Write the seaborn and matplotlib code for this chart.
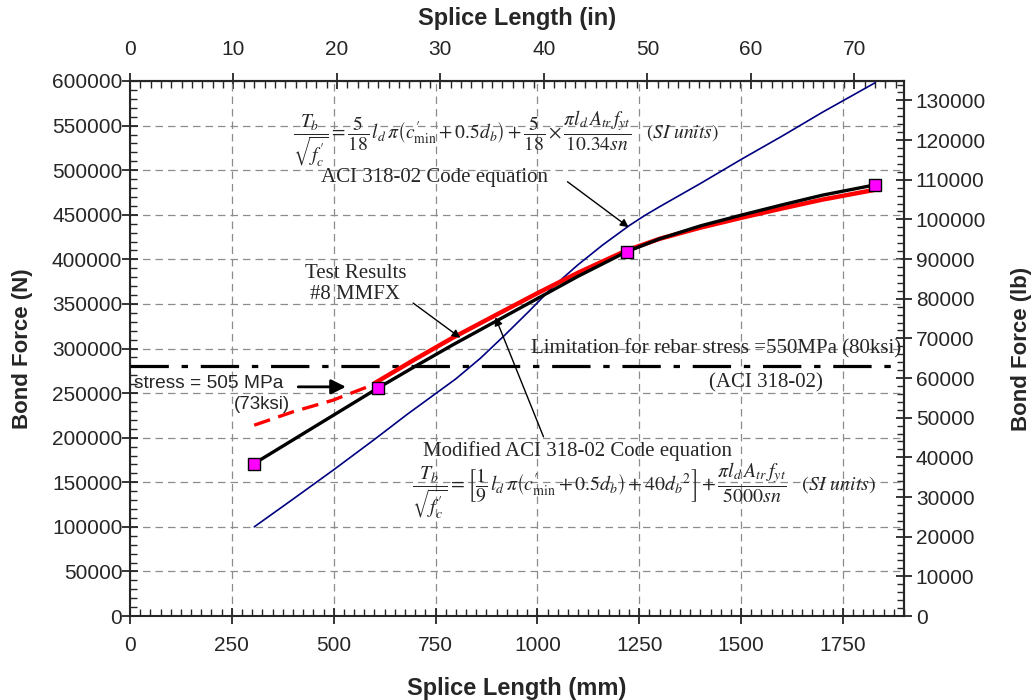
import matplotlib
matplotlib.use("Agg")
import matplotlib.pyplot as plt
import seaborn as sns
from matplotlib.ticker import MultipleLocator

# Test results, #8 MMFX (splice length in mm, bond force in N)
test_mm = [305, 610, 1219, 1829]
test_N = [171000, 256000, 408500, 483500]

# black curve through the test results
black_mm = [305, 610, 700, 792, 900, 1000, 1100, 1219, 1300, 1400, 1500, 1600, 1700, 1829]
black_N = [171000, 256000, 280000, 304000, 331000, 356000, 381000, 408500,
           423000, 437500, 449500, 461000, 472000, 483500]

# modified ACI 318-02 code equation (dashed part above the stress limit)
mod_dash_mm = [305, 400, 498, 600]
mod_dash_N = [214000, 229000, 242000, 260000]
mod_mm = [600, 700, 792, 900, 1000, 1100, 1219, 1300, 1400, 1500, 1600, 1700, 1829]
mod_N = [261000, 288000, 312000, 338000, 362000, 385000, 410000, 423000,
         435500, 446500, 457000, 467000, 478000]

# ACI 318-02 code equation
aci_mm = [305, 400, 500, 600, 680, 740, 800, 860, 920, 980, 1040, 1100, 1160, 1226,
          1263, 1300, 1400, 1500, 1600, 1700, 1829]
aci_N = [100000, 131000, 164000, 198000, 226000, 246000, 266000, 289000, 315000, 342000,
         370000, 394000, 416000, 438000, 449000, 459000, 485000, 512000, 538000, 565000, 598000]

stress_limit_N = 280000

sns.set_style("ticks")
plt.rcParams['font.family'] = ['Liberation Sans', 'DejaVu Sans']
plt.rcParams['mathtext.fontset'] = 'stix'

fig = plt.figure(figsize=(10.34, 7), dpi=100)
ax = fig.add_axes([130 / 1034, 84 / 700, 774 / 1034, 535 / 700])

ax.axhline(stress_limit_N, color='black', lw=2.3, linestyle=(0, (12, 4, 2, 4)), zorder=3)
sns.lineplot(x=aci_mm, y=aci_N, ax=ax, color='#000080', lw=1.2, sort=False, estimator=None, zorder=2)
sns.lineplot(x=mod_dash_mm, y=mod_dash_N, ax=ax, color='#ff0000', lw=2.4,
             linestyle=(0, (5, 2.6)), sort=False, estimator=None, zorder=3)
sns.lineplot(x=mod_mm, y=mod_N, ax=ax, color='#ff0000', lw=3.2, sort=False, estimator=None, zorder=3)
sns.lineplot(x=black_mm, y=black_N, ax=ax, color='black', lw=2.4, sort=False, estimator=None, zorder=4)
sns.scatterplot(x=test_mm, y=test_N, ax=ax, marker='s', s=75, color='#ff00ff',
                edgecolor='black', linewidth=1, zorder=5)

ax.set_xlim(0, 1900)
ax.set_ylim(0, 600000)
ax.xaxis.set_major_locator(MultipleLocator(250))
ax.xaxis.set_minor_locator(MultipleLocator(25))
ax.yaxis.set_major_locator(MultipleLocator(50000))
ax.yaxis.set_minor_locator(MultipleLocator(10000))
ax.grid(True, which='major', color='#8c8c8c', lw=0.9, linestyle=(0, (6, 4)))

# secondary axes: inches on top, pounds on the right
top = ax.secondary_xaxis('top', functions=(lambda x: x / 25.4, lambda x: x * 25.4))
top.xaxis.set_major_locator(MultipleLocator(10))
top.xaxis.set_minor_locator(MultipleLocator(1))
right = ax.secondary_yaxis('right', functions=(lambda y: y / 4.448, lambda y: y * 4.448))
right.yaxis.set_major_locator(MultipleLocator(10000))
right.yaxis.set_minor_locator(MultipleLocator(2000))

for a in (ax, top, right):
    a.tick_params(which='major', direction='inout', length=11, width=1.3, labelsize=15)
    a.tick_params(which='minor', direction='in', length=5, width=1.0)
    for s in a.spines.values():
        s.set_linewidth(1.5)
ax.tick_params(axis='x', which='major', pad=9)
ax.tick_params(axis='y', which='major', pad=0)
top.tick_params(which='major', pad=10)
right.tick_params(which='major', pad=3)

ax.set_xlabel('Splice Length (mm)', fontsize=17, fontweight='bold', labelpad=16)
ax.set_ylabel('Bond Force (N)', fontsize=16, fontweight='bold', labelpad=14)
top.set_xlabel('Splice Length (in)', fontsize=17, fontweight='bold', labelpad=11)
right.set_ylabel('Bond Force (lb)', fontsize=16, fontweight='bold', labelpad=18)

serif = ['Liberation Serif', 'DejaVu Serif']
eq_aci = (r"$\dfrac{T_b}{\sqrt{f^{\prime}_c}}=\dfrac{5}{18}\,l_d\,\pi\left(c^{\prime}_{\mathrm{min}}+0.5d_b\right)"
          r"+\dfrac{5}{18}\times\dfrac{\pi l_d\,A_{tr}\,f_{yt}}{10.34sn}\quad(SI\ units)$")
eq_mod = (r"$\dfrac{T_b}{\sqrt{f^{\prime}_c}}=\left[\dfrac{1}{9}\,l_d\,\pi\left(c^{\prime}_{\mathrm{min}}+0.5d_b\right)"
          r"+40{d_b}^2\right]+\dfrac{\pi l_d\,A_{tr}\,f_{yt}}{5000sn}\quad(SI\ units)$")
ax.text(923, 535500, eq_aci, ha='center', va='center', fontsize=14)
ax.text(1263, 140500, eq_mod, ha='center', va='center', fontsize=14.3)

ax.text(553, 372000, 'Test Results\n#8 MMFX', ha='center', va='center', fontsize=15,
        family=serif, linespacing=1.15)
ax.text(747, 492000, 'ACI 318-02 Code equation', ha='center', va='center', fontsize=15, family=serif)
ax.text(1099, 185000, 'Modified ACI 318-02 Code equation', ha='center', va='center', fontsize=15,
        family=serif)
ax.text(1438, 300000, 'Limitation for rebar stress =550MPa (80ksi)', ha='center', va='center',
        fontsize=15, family=serif)
ax.text(1561, 261000, '(ACI 318-02)', ha='center', va='center', fontsize=15, family=serif)
ax.text(10, 261000, 'stress = 505 MPa', ha='left', va='center', fontsize=13.8)
ax.text(324, 237000, '(73ksi)', ha='center', va='center', fontsize=13.5)

thin = dict(arrowstyle='-|>', color='black', lw=1.0, mutation_scale=12, shrinkA=0, shrinkB=0)
ax.annotate('', xy=(811, 312000), xytext=(695, 351000), arrowprops=thin)
ax.annotate('', xy=(897, 335000), xytext=(1015, 201000), arrowprops=thin)
ax.annotate('', xy=(1224, 436000), xytext=(1074, 487000), arrowprops=thin)
ax.annotate('', xy=(530, 257000), xytext=(413, 257000),
            arrowprops=dict(arrowstyle='-|>', color='black', lw=2.0, mutation_scale=22,
                            shrinkA=0, shrinkB=0))

fig.savefig('out.png', dpi=100)
